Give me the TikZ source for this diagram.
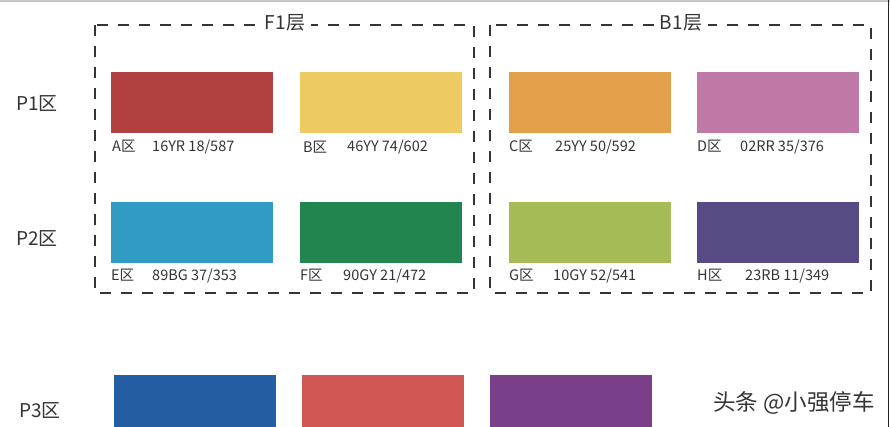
\documentclass[tikz,border=0pt]{standalone}
\usepackage{fontspec}
\setmainfont{Noto Sans CJK SC}
\usetikzlibrary{positioning}
\definecolor{ZoneInk}{RGB}{52,52,52}
\definecolor{ZoneEdge}{RGB}{200,200,200}
\definecolor{ZoneA}{RGB}{179,64,64}
\definecolor{ZoneB}{RGB}{237,203,98}
\definecolor{ZoneC}{RGB}{227,160,74}
\definecolor{ZoneD}{RGB}{190,121,166}
\definecolor{ZoneE}{RGB}{49,155,195}
\definecolor{ZoneF}{RGB}{34,133,79}
\definecolor{ZoneG}{RGB}{165,187,85}
\definecolor{ZoneH}{RGB}{88,74,130}
\definecolor{ZoneP}{RGB}{35,94,163}
\definecolor{ZoneQ}{RGB}{209,87,83}
\definecolor{ZoneR}{RGB}{122,63,136}
\tikzset{
  zone/swatch/.style={
    rectangle,
    inner sep=0pt,
    minimum width=162pt,
    minimum height=61pt
  },
  zone/floor/.style={
    draw=ZoneInk,
    line width=2.6pt,
    dash pattern=on 11pt off 10pt
  },
  zone/floortitle/.style={fill=white, inner xsep=6pt, inner ysep=1pt, text=ZoneInk, font=\fontsize{19}{21}\selectfont},
  zone/rowlabel/.style={text=ZoneInk, font=\fontsize{19}{21}\selectfont},
  zone/key/.style={anchor=base west, inner sep=0pt, text=ZoneInk, font=\fontsize{14.5}{16}\selectfont},
  zone/mark/.style={text=ZoneInk, font=\fontsize{22.5}{24}\selectfont}
}

\begin{document}
\begin{tikzpicture}[x=1pt,y=-1pt]
  \useasboundingbox (0,0) rectangle (890,427);
  \fill[white] (0,0) rectangle (890,427);
  \draw[ZoneEdge, line width=2pt] (0,1) -- (890,1);
  \draw[black!85, line width=1.5pt] (888.5,0) -- (888.5,427);

  % floor frames
  \draw[zone/floor] (95,25) rectangle (474,293);
  \draw[zone/floor] (490,25) rectangle (871,293);
  \node[zone/floortitle] (f1) at (285,23) {F1层};
  \node[zone/floortitle] (b1) at (681,23) {B1层};

  % row labels
  \node[zone/rowlabel] (p1) at (37,104) {P1区};
  \node[zone/rowlabel] (p2) at (37,239) {P2区};
  \node[zone/rowlabel] (p3) at (40,411) {P3区};

  % P1 row
  \node[zone/swatch,fill=ZoneA] (a) at (192,102.5) {};
  \node[zone/swatch,fill=ZoneB] (b) at (380.5,102.5) {};
  \node[zone/swatch,fill=ZoneC] (c) at (589.5,102.5) {};
  \node[zone/swatch,fill=ZoneD] (d) at (778,102.5) {};
  \node[zone/key] (akey) at (112,152) {A区};
  \node[zone/key] (aval) at (152,152) {16YR 18/587};
  \node[zone/key] (bkey) at (303,153) {B区};
  \node[zone/key] (bval) at (347,152) {46YY 74/602};
  \node[zone/key] (ckey) at (509,152) {C区};
  \node[zone/key] (cval) at (555,152) {25YY 50/592};
  \node[zone/key] (dkey) at (697,152) {D区};
  \node[zone/key] (dval) at (740,152) {02RR 35/376};

  % P2 row
  \node[zone/swatch,fill=ZoneE] (e) at (192,233) {};
  \node[zone/swatch,fill=ZoneF] (f) at (380.5,233) {};
  \node[zone/swatch,fill=ZoneG] (g) at (589.5,233) {};
  \node[zone/swatch,fill=ZoneH] (h) at (778,233) {};
  \node[zone/key] (ekey) at (111,280) {E区};
  \node[zone/key] (eval) at (152,280) {89BG 37/353};
  \node[zone/key] (fkey) at (300,280) {F区};
  \node[zone/key] (fval) at (343,280) {90GY 21/472};
  \node[zone/key] (gkey) at (509,280) {G区};
  \node[zone/key] (gval) at (553,280) {10GY 52/541};
  \node[zone/key] (hkey) at (697,280) {H区};
  \node[zone/key] (hval) at (745,280) {23RB 11/349};

  % P3 row
  \node[zone/swatch,minimum height=52pt,fill=ZoneP] (p) at (195,401) {};
  \node[zone/swatch,minimum height=52pt,fill=ZoneQ] (q) at (383,401) {};
  \node[zone/swatch,minimum height=52pt,fill=ZoneR] (r) at (571,401) {};

  \node[zone/mark] (wm) at (794,403) {头条 @小强停车};
\end{tikzpicture}
\end{document}
